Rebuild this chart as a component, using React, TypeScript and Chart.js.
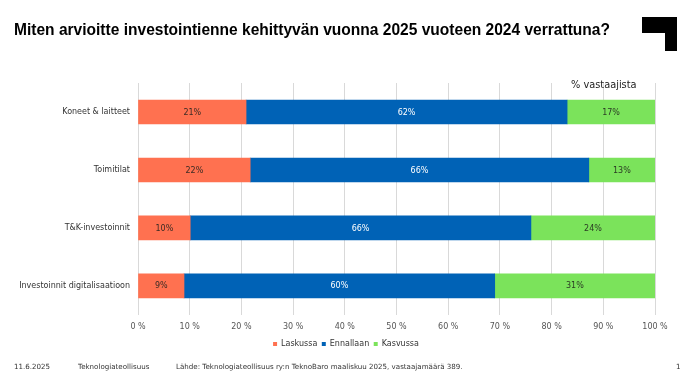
import React, { useEffect, useRef } from "react";
import { Chart, registerables } from "chart.js";

Chart.register(...registerables);

const categories = ["Koneet & laitteet", "Toimitilat", "T&K-investoinnit", "Investoinnit digitalisaatioon"];
const laskussa = [20.9, 21.7, 10.1, 8.9];
const ennallaan = [62.1, 65.5, 65.9, 60.1];
const kasvussa = [17.0, 12.8, 24.0, 31.0];
const seriesNames = ["Laskussa", "Ennallaan", "Kasvussa"];
const xTicks = [0, 10, 20, 30, 40, 50, 60, 70, 80, 90, 100];

const TITLE = "Miten arvioitte investointienne kehittyvän vuonna 2025 vuoteen 2024 verrattuna?";
const UNIT = "% vastaajista";
const FOOT_DATE = "11.6.2025";
const FOOT_ORG = "Teknologiateollisuus";
const FOOT_SRC = "Lähde: Teknologiateollisuus ry:n TeknoBaro maaliskuu 2025, vastaajamäärä 389.";
const FOOT_PAGE = "1";

const FONT = "'DejaVu Sans', Verdana, sans-serif";

const labelPlugin = {
  id: "segLabels",
  afterDatasetsDraw(chart: any) {
    const ctx = chart.ctx;
    ctx.save();
    ctx.font = `8px ${FONT}`;
    ctx.textAlign = "center";
    ctx.textBaseline = "middle";
    chart.data.datasets.forEach((ds: any, di: number) => {
      const meta = chart.getDatasetMeta(di);
      if (meta.hidden) return;
      meta.data.forEach((el: any, i: number) => {
        const v = ds.data[i];
        const cx = (el.x + el.base) / 2;
        ctx.fillStyle = ds.labelColor;
        ctx.fillText(Math.round(v) + "%", cx, el.y + 0.5);
      });
    });
    ctx.restore();
  },
};

export default function App() {
  const ref = useRef<HTMLCanvasElement>(null);
  const titleRef = useRef<HTMLDivElement>(null);
  useEffect(() => {
    document.body.style.margin = "0";
    const t = titleRef.current;
    if (t) {
      const w = t.getBoundingClientRect().width;
      if (w > 0) t.style.transform = `scaleX(${596 / w})`;
    }
    const chart = new Chart(ref.current!, {
      type: "bar",
      data: {
        labels: categories,
        datasets: [
          { label: seriesNames[0], data: laskussa, backgroundColor: "#FF7150", labelColor: "#3b2b24", barThickness: 24 } as any,
          { label: seriesNames[1], data: ennallaan, backgroundColor: "#0062B6", labelColor: "#ffffff", barThickness: 24 } as any,
          { label: seriesNames[2], data: kasvussa, backgroundColor: "#7BE35B", labelColor: "#2b3b24", barThickness: 24 } as any,
        ],
      },
      options: {
        indexAxis: "y",
        animation: false,
        responsive: false,
        maintainAspectRatio: false,
        layout: { padding: { top: 83, right: 0, left: 0, bottom: 28 } },
        scales: {
          x: {
            stacked: true,
            min: 0,
            max: 100,
            afterBuildTicks: (s: any) => {
              s.ticks = xTicks.map((v) => ({ value: v }));
            },
            afterFit: (s: any) => {
              s.height = s.height - 3;
            },
            ticks: {
              callback: (v: any) => v + " %",
              font: { family: FONT, size: 8 },
              color: "#555555",
              padding: 7,
              maxRotation: 0,
            },
            grid: { color: "#d9d9d9", drawTicks: false, lineWidth: 1 },
            border: { display: false },
          },
          y: {
            stacked: true,
            afterFit: (s: any) => {
              s.width = 138;
            },
            ticks: {
              font: { family: FONT, size: 8 },
              color: "#333333",
              padding: 8,
            },
            grid: { display: false, drawTicks: false },
            border: { display: false },
          },
          yRight: {
            position: "right",
            display: true,
            afterFit: (s: any) => {
              s.width = 37;
            },
            ticks: { display: false },
            grid: { display: false, drawTicks: false },
            border: { display: false },
          },
        },
        plugins: {
          legend: {
            position: "bottom",
            labels: {
              boxWidth: 4,
              boxHeight: 4,
              padding: 4.5,
              font: { family: FONT, size: 8 },
              color: "#333333",
            },
          },
          tooltip: { enabled: false },
        },
      },
      plugins: [labelPlugin],
    });
    return () => chart.destroy();
  }, []);

  const abs: React.CSSProperties = { position: "absolute", whiteSpace: "nowrap", lineHeight: 1 };
  const foot: React.CSSProperties = { ...abs, top: 363, fontFamily: FONT, fontSize: 7.1, color: "#333" };
  return (
    <div style={{ position: "absolute", left: 0, top: 0, width: 692, height: 386, background: "#fff", overflow: "hidden" }}>
      <canvas ref={ref} width={692} height={386} style={{ position: "absolute", left: 0, top: 0, width: 692, height: 386 }} />
      <div ref={titleRef} style={{ ...abs, left: 14, top: 21, transformOrigin: "0 0", fontFamily: "'Liberation Sans', Arial, sans-serif", fontWeight: 700, fontSize: 16.5, color: "#000" }}>{TITLE}</div>
      <div style={{ position: "absolute", left: 642, top: 17, width: 35, height: 16, background: "#000" }} />
      <div style={{ position: "absolute", left: 665, top: 17, width: 12, height: 34, background: "#000" }} />
      <div style={{ ...abs, left: 571, top: 80, fontFamily: FONT, fontSize: 9.8, color: "#222" }}>{UNIT}</div>
      <div style={{ ...foot, left: 14 }}>{FOOT_DATE}</div>
      <div style={{ ...foot, left: 78 }}>{FOOT_ORG}</div>
      <div style={{ ...foot, left: 176 }}>{FOOT_SRC}</div>
      <div style={{ ...foot, left: 676 }}>{FOOT_PAGE}</div>
    </div>
  );
}
